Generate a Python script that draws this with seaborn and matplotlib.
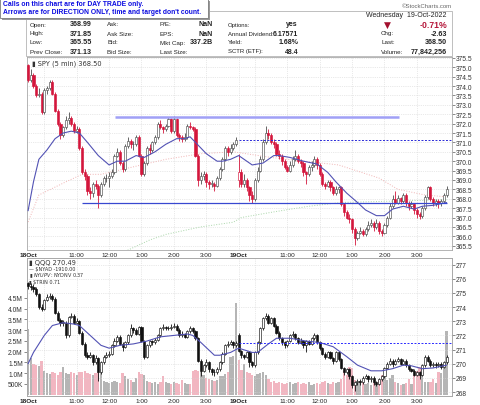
import numpy as np
import matplotlib
matplotlib.use("Agg")
import matplotlib.pyplot as plt
import seaborn as sns
from matplotlib.patches import Rectangle

sns.set_style("white")
plt.rcParams['font.family'] = ['Liberation Sans', 'DejaVu Sans']

W, H = 480, 406

# SPY 5 min bars, 18 Oct (0-77) and 19 Oct (78-155)
spy_day_open = [375.1, 368.99]
spy_close = [
    374.3, 374.6, 374.0, 373.5, 373.6, 372.6, 373.8, 373.9, 374.2, 373.6,
    372.7, 372.0, 371.4, 371.8, 372.2, 372.3, 372.0, 371.6, 371.7, 370.7,
    369.4, 369.2, 368.4, 368.3, 368.8, 368.7, 368.2, 368.8, 369.1, 369.1,
    369.2, 369.4, 370.3, 370.5, 369.9, 369.6, 370.8, 371.1, 370.9, 370.9,
    371.3, 370.3, 369.3, 369.9, 370.7, 370.6, 371.0, 371.3, 372.0, 371.8,
    371.7, 371.9, 372.25, 371.6, 372.25, 371.4, 371.3, 371.2, 371.3, 371.9,
    371.8, 371.7, 370.3, 369.0, 369.2, 369.3, 368.9, 368.8, 368.8, 368.7,
    369.1, 369.6, 370.1, 370.7, 370.5, 370.7, 370.9, 371.13,
    369.4, 368.8, 369.0, 368.6, 368.2, 368.0, 369.0, 369.5, 370.1, 371.0,
    371.5, 371.4, 371.0, 370.9, 370.4, 370.3, 370.0, 369.7, 369.5, 369.8,
    370.1, 370.3, 370.0, 369.9, 369.4, 369.3, 369.7, 369.8, 370.1, 369.8,
    369.3, 368.8, 368.7, 368.9, 368.6, 368.3, 368.5, 368.6, 367.7, 367.3,
    367.0, 366.9, 366.4, 365.9, 366.2, 366.3, 366.1, 366.4, 366.6, 366.7,
    366.5, 366.7, 366.3, 366.2, 366.6, 367.0, 367.6, 368.0, 367.8, 368.05,
    367.9, 368.2, 367.8, 367.6, 367.7, 367.4, 367.2, 367.1, 367.5, 368.1,
    368.6, 368.0, 367.8, 367.9, 367.8, 367.9, 368.2, 368.5]
spy_high = [
    375.2, 374.9, 374.7, 374.1, 373.9, 373.7, 373.9, 374.0, 374.3, 374.3,
    373.7, 372.8, 372.1, 371.9, 372.4, 372.6, 372.4, 372.1, 371.9, 371.8,
    370.8, 369.6, 369.3, 368.6, 368.9, 369.0, 368.8, 368.9, 369.2, 369.3,
    369.4, 369.6, 370.4, 370.7, 370.6, 370.0, 370.9, 371.3, 371.2, 371.1,
    371.4, 371.4, 370.4, 370.0, 370.8, 370.9, 371.1, 371.4, 372.1, 372.2,
    371.9, 372.0, 372.35, 372.3, 372.4, 372.3, 371.5, 371.4, 371.5, 372.0,
    372.1, 371.9, 371.8, 370.4, 369.4, 369.5, 369.4, 369.0, 369.0, 368.9,
    369.2, 369.7, 370.2, 370.8, 370.8, 370.9, 371.0, 371.3,
    370.4, 369.6, 369.3, 369.1, 368.7, 368.4, 369.1, 369.7, 370.3, 371.2,
    371.85, 371.7, 371.5, 371.2, 371.0, 370.6, 370.4, 370.1, 369.8, 370.0,
    370.3, 370.6, 370.4, 370.1, 370.0, 369.5, 369.8, 370.0, 370.3, 370.2,
    369.9, 369.4, 368.9, 369.0, 369.0, 368.7, 368.7, 368.7, 368.7, 367.8,
    367.4, 367.2, 367.0, 366.5, 366.3, 366.5, 366.4, 366.5, 366.8, 366.9,
    366.8, 366.9, 366.8, 366.4, 366.7, 367.1, 367.8, 368.2, 368.4, 368.2,
    368.1, 368.3, 368.3, 367.9, 367.9, 367.8, 367.5, 367.3, 367.6, 368.2,
    368.7, 368.7, 368.1, 368.0, 368.0, 368.0, 368.3, 368.7]
spy_low = [
    374.2, 374.2, 373.9, 373.4, 373.4, 372.5, 372.5, 373.6, 373.8, 373.5,
    372.6, 371.9, 371.2, 371.3, 371.7, 372.0, 371.9, 371.5, 371.5, 370.6,
    369.3, 369.0, 368.2, 368.0, 368.1, 368.5, 367.5, 368.1, 368.7, 368.9,
    368.6, 369.1, 369.3, 370.2, 369.8, 369.4, 369.5, 370.7, 370.7, 370.6,
    370.8, 370.2, 369.2, 369.2, 369.8, 370.4, 370.5, 370.9, 371.2, 371.7,
    371.5, 371.6, 371.8, 371.5, 371.5, 371.3, 371.1, 371.0, 371.1, 371.2,
    371.7, 371.6, 370.2, 368.7, 368.8, 369.0, 368.6, 368.5, 368.6, 368.4,
    368.6, 369.0, 369.5, 370.0, 370.3, 370.4, 370.6, 370.8,
    368.6, 368.6, 368.6, 368.4, 367.9, 367.8, 367.9, 368.9, 369.4, 370.0,
    370.9, 371.2, 370.9, 370.7, 370.3, 370.1, 369.8, 369.6, 369.4, 369.4,
    369.7, 370.0, 369.9, 369.7, 369.2, 368.8, 369.2, 369.5, 369.7, 369.6,
    369.2, 368.7, 368.5, 368.6, 368.4, 368.2, 368.2, 368.3, 367.6, 367.1,
    366.9, 366.7, 366.2, 365.55, 365.8, 366.1, 366.0, 366.0, 366.3, 366.5,
    366.3, 366.4, 366.1, 366.0, 366.1, 366.5, 366.9, 367.5, 367.7, 367.7,
    367.7, 367.8, 367.6, 367.4, 367.5, 367.2, 367.0, 366.9, 367.0, 367.4,
    368.0, 367.9, 367.6, 367.6, 367.5, 367.6, 367.8, 368.1]

# QQQ 5 min bars
qqq_day_open = [275.7, 272.0]
qqq_close = [
    275.5, 275.4, 275.3, 274.9, 274.0, 273.9, 274.5, 274.7, 274.8, 274.6,
    273.6, 273.1, 272.9, 272.9, 272.0, 273.3, 273.4, 272.9, 273.0, 272.2,
    271.4, 270.6, 270.5, 270.6, 270.1, 270.4, 269.4, 270.1, 270.5, 270.6,
    270.7, 271.3, 271.6, 271.9, 271.4, 271.2, 271.5, 272.0, 272.5, 272.4,
    272.1, 272.6, 271.6, 270.5, 271.3, 271.6, 271.5, 271.7, 272.0, 272.5,
    272.6, 272.5, 272.55, 272.6, 272.7, 272.4, 272.0, 272.1, 271.9, 272.3,
    272.5, 272.3, 271.8, 270.2, 269.5, 269.9, 270.1, 269.6, 269.4, 269.4,
    269.6, 270.1, 270.7, 271.3, 271.4, 271.5, 271.3, 271.46,
    270.9, 270.6, 270.5, 270.8, 270.1, 269.9, 270.8, 271.5, 272.5, 273.2,
    273.4, 272.9, 273.2, 272.7, 272.2, 271.8, 271.5, 271.3, 271.6, 272.0,
    272.1, 271.8, 271.5, 271.6, 271.3, 271.6, 271.4, 271.8, 272.0, 271.5,
    271.1, 270.7, 270.5, 270.8, 270.4, 270.2, 270.8, 270.3, 269.7, 269.4,
    269.6, 269.1, 268.5, 268.7, 268.8, 268.7, 269.0, 269.1, 268.9, 269.0,
    268.7, 268.6, 268.9, 269.1, 269.7, 270.0, 270.2, 270.0, 270.2, 270.35,
    270.0, 270.2, 269.9, 269.6, 269.5, 269.2, 269.4, 269.2, 269.9, 270.5,
    270.2, 269.9, 270.0, 269.9, 270.0, 269.8, 270.1, 270.49]
qqq_high = [
    275.8, 275.7, 275.6, 275.4, 275.0, 274.2, 274.6, 274.9, 275.0, 274.9,
    274.7, 273.7, 273.2, 273.1, 273.0, 273.4, 273.6, 273.5, 273.2, 273.1,
    272.3, 271.5, 270.8, 270.8, 270.7, 270.6, 270.5, 270.2, 270.6, 270.8,
    270.9, 271.4, 271.8, 272.0, 272.0, 271.5, 271.6, 272.1, 272.8, 272.6,
    272.5, 272.7, 272.7, 271.7, 271.4, 271.7, 271.7, 271.8, 272.1, 272.6,
    272.8, 272.7, 272.7, 272.8, 272.9, 272.8, 272.5, 272.3, 272.2, 272.4,
    272.7, 272.6, 272.4, 271.9, 270.3, 270.0, 270.3, 270.2, 269.7, 269.6,
    269.8, 270.2, 270.8, 271.4, 271.6, 271.7, 271.6, 271.6,
    272.2, 271.0, 270.7, 270.9, 270.9, 270.2, 270.9, 271.6, 272.6, 273.3,
    273.6, 273.5, 273.3, 273.3, 272.8, 272.3, 271.9, 271.6, 271.7, 272.1,
    272.3, 272.2, 271.9, 271.8, 271.7, 271.7, 271.7, 271.9, 272.2, 272.1,
    271.6, 271.2, 270.8, 270.9, 270.9, 270.5, 270.9, 270.9, 270.4, 269.8,
    269.7, 269.7, 269.2, 268.8, 268.9, 268.9, 269.1, 269.3, 269.2, 269.1,
    269.1, 268.8, 269.0, 269.2, 269.8, 270.1, 270.4, 270.3, 270.3, 270.5,
    270.4, 270.3, 270.3, 270.0, 269.7, 269.6, 269.5, 269.5, 270.0, 270.6,
    270.6, 270.3, 270.1, 270.1, 270.1, 270.1, 270.2, 270.6]
qqq_low = [
    275.3, 275.2, 275.1, 274.8, 273.9, 273.7, 273.8, 274.4, 274.6, 274.4,
    273.5, 273.0, 272.7, 272.7, 271.8, 271.9, 273.2, 272.8, 272.8, 272.1,
    271.3, 270.5, 270.3, 270.4, 269.9, 270.0, 268.8, 269.3, 270.0, 270.4,
    270.5, 270.6, 271.2, 271.5, 271.3, 270.9, 271.1, 271.4, 271.9, 272.2,
    272.0, 272.0, 271.5, 270.3, 270.4, 271.2, 271.3, 271.4, 271.6, 271.9,
    272.4, 272.4, 272.4, 272.4, 272.5, 272.3, 271.9, 271.9, 271.8, 271.8,
    272.2, 272.2, 271.7, 270.1, 269.1, 269.4, 269.8, 269.4, 269.2, 269.1,
    269.3, 269.5, 270.0, 270.6, 271.2, 271.3, 271.1, 271.2,
    270.8, 270.4, 270.3, 270.4, 269.8, 269.8, 269.8, 270.7, 271.4, 272.4,
    273.1, 272.8, 272.8, 272.6, 272.1, 271.7, 271.3, 271.1, 271.2, 271.5,
    271.9, 271.7, 271.4, 271.4, 271.1, 270.8, 271.3, 271.3, 271.7, 271.4,
    271.0, 270.6, 270.3, 270.4, 270.3, 270.0, 270.1, 270.2, 269.6, 269.2,
    269.3, 268.9, 268.3, 268.1, 268.5, 268.5, 268.6, 268.9, 268.7, 268.7,
    268.5, 268.4, 268.5, 268.8, 269.0, 269.6, 269.9, 269.8, 269.9, 270.1,
    269.9, 269.9, 269.8, 269.5, 269.4, 269.1, 269.1, 268.9, 269.1, 269.8,
    270.1, 269.8, 269.8, 269.7, 269.8, 269.6, 269.7, 270.0]

# volume (millions)
volume = [
    3.05, 1.7, 1.45, 1.4, 1.35, 1.55, 1.1, 1.0, 0.95, 1.05,
    1.0, 0.9, 1.05, 1.3, 1.0, 0.95, 1.05, 1.0, 0.9, 1.05,
    1.05, 1.1, 1.0, 0.95, 0.9, 1.0, 1.05, 1.2, 0.65, 0.6,
    0.55, 0.6, 0.65, 0.6, 0.55, 1.0, 0.85, 0.75, 0.7, 0.6,
    0.8, 1.05, 0.95, 0.9, 0.65, 0.6, 0.55, 0.6, 0.5, 0.6,
    0.85, 0.6, 0.55, 0.5, 0.6, 0.55, 0.5, 0.7, 0.55, 0.5,
    0.5, 1.1, 1.15, 1.1, 1.05, 0.9, 0.8, 0.75, 0.7, 0.65,
    0.7, 0.85, 0.85, 0.95, 1.05, 1.75, 1.8, 4.25,
    1.6, 1.15, 1.45, 1.05, 1.0, 0.9, 0.85, 0.95, 1.0, 1.05,
    0.9, 0.75, 0.6, 0.65, 0.55, 0.6, 0.55, 0.5, 0.55, 0.6,
    0.5, 0.55, 0.6, 0.5, 0.55, 0.5, 0.6, 0.45, 0.5, 0.55,
    0.5, 0.6, 0.65, 0.55, 0.5, 0.6, 0.55, 0.6, 0.75, 1.1,
    0.9, 1.3, 1.25, 0.7, 0.6, 0.55, 0.6, 0.5, 0.55, 0.45,
    0.6, 0.5, 0.7, 0.9, 0.85, 0.7, 0.8, 0.9, 0.6, 0.55,
    0.45, 0.5, 0.55, 0.75, 0.5, 0.9, 1.1, 1.3, 1.25, 0.6,
    0.6, 0.6, 0.75, 0.55, 1.05, 1.0, 1.3, 2.95]

# moving averages (bar index, value)
spy_ma_x = [0, 2, 4, 7, 10, 13, 16, 19, 22, 26, 30, 33, 36, 40, 43, 47, 51, 55, 58, 60,
            62, 66, 70, 72, 75, 78, 83, 87, 91, 93, 97, 102, 107, 111, 114, 118, 122, 125,
            129, 132, 135, 139, 143, 146, 150, 155]
spy_ma_y = [367.36, 368.9, 370.1, 370.6, 371.2, 371.5, 371.6, 371.5, 371.0, 370.3, 369.8,
            370.0, 370.0, 370.3, 370.2, 370.5, 370.9, 371.2, 371.2, 371.3, 371.0, 370.4,
            370.0, 370.0, 370.1, 370.3, 369.8, 369.9, 370.3, 370.3, 370.2, 370.0, 369.85,
            369.4, 368.9, 368.3, 367.8, 367.4, 367.1, 367.1, 367.45, 367.6, 367.45, 367.6,
            367.65, 367.8]
spy_ma50_x = [0, 4, 14, 20, 27, 39, 51, 64, 76, 90, 115, 130, 137, 147, 155]
spy_ma50_y = [366.76, 368.2, 368.9, 369.3, 369.3, 369.7, 370.1, 370.4, 370.5, 370.2,
              369.8, 369.1, 368.5, 368.2, 368.1]
spy_ma200_x = [36, 45, 51, 64, 76, 79, 91, 104, 116, 155]
spy_ma200_y = [365.2, 365.8, 366.1, 366.5, 366.75, 367.0, 367.3, 367.6, 367.8, 367.95]
qqq_ma_x = [0, 2, 6, 9, 13, 17, 19, 23, 27, 30, 34, 39, 44, 49, 54, 59, 61, 64, 69, 71,
            75, 78, 83, 85, 89, 92, 97, 103, 108, 113, 118, 122, 127, 131, 135, 139, 142,
            146, 150, 155]
qqq_ma_y = [270.0, 270.8, 272.0, 272.7, 272.9, 272.8, 272.7, 272.0, 271.3, 271.1, 271.3,
            271.4, 271.6, 271.9, 272.0, 272.1, 272.0, 271.5, 270.6, 270.6, 270.8, 271.1,
            270.8, 270.8, 271.4, 271.8, 271.8, 271.6, 271.5, 271.2, 270.5, 269.9, 269.5,
            269.5, 269.65, 269.9, 269.85, 269.65, 269.7, 269.9]

resistance = 372.37
support = 367.8
spy_prev_close = 371.13
qqq_prev_close = 271.46

tick_pos = [0, 18, 30, 42, 54, 66, 78, 96, 108, 120, 132, 144]
tick_lab = ['18Oct', '11:00', '12:00', '1:00', '2:00', '3:00',
            '19Oct', '11:00', '12:00', '1:00', '2:00', '3:00']
hour_pos = [6, 18, 30, 42, 54, 66, 78, 84, 96, 108, 120, 132, 144]

for arr in (spy_close, spy_high, spy_low, qqq_close, qqq_high, qqq_low, volume):
    assert len(arr) == 156, len(arr)

n = len(spy_close)
x = np.arange(n)


def opens(close, day_open):
    o = [day_open[0]] + list(close[:-1])
    o[78] = day_open[1]
    return np.array(o)


def candles(ax, o, h, l, c, dn_col, up_col):
    c = np.array(c)
    prev = np.r_[c[0] + 1, c[:-1]]
    prev[0] = o[0] + 1
    col = np.where(c < prev, dn_col, up_col)
    face = np.where(c < o, col, 'white')
    ax.vlines(x, l, h, colors=col, lw=0.6, zorder=3)
    body = np.maximum(np.abs(c - o), 0.03)
    ax.bar(x, body, bottom=np.minimum(o, c), width=0.8, color=face,
           edgecolor=col, linewidth=0.45, zorder=4)


def fx(v):
    return v / W


def fy(v):
    return 1 - v / H


fig = plt.figure(figsize=(4.8, 4.06), dpi=100)
fig.patch.set_facecolor('white')

ax1 = fig.add_axes([fx(27), fy(251), 425 / W, 193 / H])
ax2 = fig.add_axes([fx(27), fy(397), 425 / W, 138 / H])
axp = ax2.twinx()

# ---- SPY panel
spy_o = opens(spy_close, spy_day_open)
for xx in hour_pos:
    ax1.axvline(xx, color='#d4d4d4', lw=0.5, ls=':', zorder=1)
ax1.grid(True, axis='y', color='#d4d4d4', lw=0.5, ls=':')
ax1.set_axisbelow(True)
sns.lineplot(x=spy_ma200_x, y=spy_ma200_y, ax=ax1, color='#a9d6a9', lw=0.7, ls=':', zorder=2)
sns.lineplot(x=spy_ma50_x, y=spy_ma50_y, ax=ax1, color='#f0b4b4', lw=0.7, ls=':', zorder=2)
candles(ax1, spy_o, spy_high, spy_low, np.array(spy_close), '#d4163c', '#4d4d4d')
sns.lineplot(x=spy_ma_x, y=spy_ma_y, ax=ax1, color='#5252b4', lw=0.8, zorder=5)
ax1.hlines(resistance, 32.2, 137.5, color='#a0a0f6', lw=1.8, zorder=6)
ax1.hlines(support, 20, 155.2, color='#3848d0', lw=0.9, zorder=6)
ax1.hlines(spy_prev_close, 78, 157, color='#2a2ad8', lw=0.7, ls=(0, (2, 1.6)), zorder=6)
ax1.set_xlim(-0.4, 157)
ax1.set_ylim(365.27, 375.55)
ax1.yaxis.tick_right()
ax1.set_yticks(np.arange(365.5, 375.6, 0.5))
ax1.set_yticklabels([f'{v:.1f}' for v in np.arange(365.5, 375.6, 0.5)])
ax1.set_xticks(tick_pos)
ax1.set_xticklabels(tick_lab)
ax1.tick_params(axis='y', labelsize=4.8, length=2, width=0.4, colors='#333333', pad=1)
ax1.tick_params(axis='x', labelsize=4.6, length=0, pad=1.5, colors='#222222')
ax1.text(0.012, 0.985, '\u25ae SPY (5 min) 368.50', transform=ax1.transAxes, ha='left',
         va='top', fontsize=4.8, family='DejaVu Sans', color='#333333')

# ---- QQQ / volume panel
qqq_o = opens(qqq_close, qqq_day_open)
vol_col = ['#b5b5b5' if i == 0 or spy_close[i] >= spy_close[i - 1] else '#f2b6c1' for i in range(n)]
ax2.bar(x, volume, width=0.85, color=vol_col, linewidth=0, zorder=1)
ax2.set_ylim(-0.06, 6.36)
ax2.set_yticks([0.5, 1.0, 1.5, 2.0, 2.5, 3.0, 3.5, 4.0, 4.5])
ax2.set_yticklabels(['500K', '1.0M', '1.5M', '2.0M', '2.5M', '3.0M', '3.5M', '4.0M', '4.5M'])
ax2.set_xticks(tick_pos)
ax2.set_xticklabels(tick_lab)
ax2.tick_params(axis='y', labelsize=4.8, length=2, width=0.4, colors='#333333', pad=1)
ax2.tick_params(axis='x', labelsize=4.6, length=0, pad=1.5, colors='#222222')

for xx in hour_pos:
    axp.axvline(xx, color='#d4d4d4', lw=0.5, ls=':', zorder=1)
axp.grid(True, axis='y', color='#d4d4d4', lw=0.5, ls=':')
axp.set_axisbelow(True)
candles(axp, qqq_o, qqq_high, qqq_low, np.array(qqq_close), '#111111', '#111111')
sns.lineplot(x=qqq_ma_x, y=qqq_ma_y, ax=axp, color='#5252b4', lw=0.8, zorder=5)
axp.hlines(qqq_prev_close, 78, 157, color='#2a2aff', lw=0.7, ls=(0, (2, 1.6)), zorder=6)
axp.set_xlim(-0.4, 157)
axp.set_ylim(267.72, 277.47)
axp.set_yticks(range(268, 278))
axp.tick_params(axis='y', labelsize=4.8, length=2, width=0.4, colors='#333333', pad=1)

for ax in (ax1, ax2, axp):
    ax.set_xlabel('')
    ax.set_ylabel('')
    for s in ax.spines.values():
        s.set_color('#a8a8a8')
        s.set_linewidth(0.6)
for ax in (ax1, ax2):
    for lab in ax.get_xticklabels():
        if 'Oct' in lab.get_text():
            lab.set_fontweight('bold')

leg = [(263, '\u25ae QQQ 270.49', 4.8), (269.6, '\u2014 $NYAD -1910.00', 3.5),
       (275.9, '\u25ae $NYUPV:$NYDNV 0.37', 3.5), (282.2, '\u25ae $TRIN 0.71', 3.5)]
for yy, s, fs in leg:
    fig.text(fx(29), fy(yy), s, ha='left', va='center', fontsize=fs,
             family='DejaVu Sans', color='#333333')

# ---- header
fig.add_artist(Rectangle((fx(26), fy(57)), 426 / W, 45 / H, transform=fig.transFigure,
                         fill=False, ec='#b4b4b4', lw=0.6))


def t(xp, yp, s, ha='left', size=4.5, weight='normal', color='#222222'):
    fig.text(fx(xp), fy(yp), s, ha=ha, va='center', fontsize=size,
             fontweight=weight, color=color)


rows = [25, 34, 43, 52]
col1 = [('Open:', '368.99'), ('High:', '371.85'), ('Low:', '365.55'), ('Prev Close:', '371.13')]
col2 = ['Ask:', 'Ask Size:', 'Bid:', 'Bid Size:']
col3 = [('P/E:', 'NaN'), ('EPS:', 'NaN'), ('Mkt Cap:', '337.2B'), ('Last Size:', '')]
col4 = [('Options:', 'yes'), ('Annual Dividend:', '6.17571'), ('Yield:', '1.68%'),
        ('SCTR (ETF):', '48.4')]
col5 = [('Chg:', '-2.63'), ('Last:', '368.50'), ('Volume:', '77,842,256')]
for r, (a, b) in zip(rows, col1):
    t(30, r, a)
    t(92, r, b, ha='right', size=5.1, weight='bold')
for r, a in zip(rows, col2):
    t(107, r, a)
for r, (a, b) in zip(rows, col3):
    t(160, r, a)
    t(213, r, b, ha='right', size=5.1, weight='bold')
for r, (a, b) in zip(rows, col4):
    t(228, r, a, size=4.3)
    t(298, r, b, ha='right', size=5.0, weight='bold')
for r, (a, b) in zip(rows[1:], col5):
    t(381, r, a)
    t(447, r, b, ha='right', size=5.1, weight='bold')
t(447, 15.7, 'Wednesday  19-Oct-2022', ha='right', size=5.0)
fig.text(fx(384), fy(25), '\u25bc', ha='left', va='center', fontsize=6.5,
         family='DejaVu Sans', color='#a3102e')
t(447, 25, '-0.71%', ha='right', size=6.2, weight='bold', color='#b5173a')
t(452, 6, '\u00a9StockCharts.com', ha='right', size=4.3, color='#666666')

# ---- warning box
fig.add_artist(Rectangle((fx(1.5), fy(20.5)), 208 / W, 19 / H, transform=fig.transFigure,
                         fc='#9a9a9a', ec='none', zorder=9))
fig.add_artist(Rectangle((0, fy(19)), 208 / W, 19 / H, transform=fig.transFigure,
                         fc='white', ec='#7a7a7a', lw=0.6, zorder=10))
fig.text(fx(3), fy(5), 'Calls on this chart are for DAY TRADE only.', ha='left', va='center',
         fontsize=4.9, fontweight='bold', color='#0b0be0', zorder=11)
fig.text(fx(3), fy(13), "Arrows are for DIRECTION ONLY, time and target don't count.",
         ha='left', va='center', fontsize=4.9, fontweight='bold', color='#0b0be0', zorder=11)

fig.savefig('out.png', dpi=100, facecolor='white')
